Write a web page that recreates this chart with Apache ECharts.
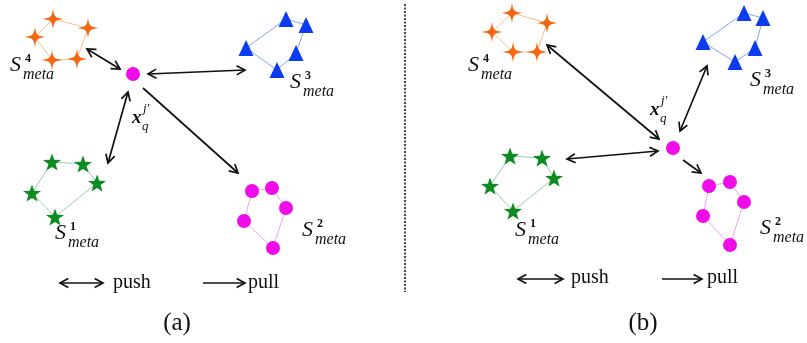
<!DOCTYPE html>
<html>
<head>
<meta charset="utf-8">
<script src="https://cdn.jsdelivr.net/npm/echarts@6/dist/echarts.min.js"></script>
<style>
  html, body { margin: 0; padding: 0; background: #fff; }
  #chart { width: 807px; height: 343px; }
</style>
</head>
<body>
<div id="chart"></div>
<script>
// Support sets (five samples each) for panel (a) and panel (b), in layout units.
const orangeA = [[35, 37], [53, 19], [88, 28], [77, 59], [52, 60]];
const blueA   = [[246, 48], [286, 19], [306, 25], [296, 53], [277, 70]];
const greenA  = [[52, 162], [83, 164], [97, 183], [55, 217], [32, 193]];
const pinkA   = [[252, 191], [272, 188], [286, 208], [273, 248], [244, 221]];
const queryA  = [[133, 74]];

const orangeB = [[492, 32], [512, 13], [547, 23], [537, 52], [513, 52]];
const blueB   = [[703, 42], [744, 13], [763, 18], [755, 48], [735, 62]];
const greenB  = [[510, 156], [542, 158], [554, 178], [513, 211], [490, 186]];
const pinkB   = [[709, 186], [730, 182], [744, 202], [730, 245], [703, 216]];
const queryB  = [[673, 148]];

// Relations: push = double-headed, pull = single-headed [x1, y1, x2, y2]
const pushLinks = [
  [87, 49, 120, 69], [148, 74, 245, 70], [128, 92, 108, 163],
  [547, 45, 659, 139], [707, 66, 680, 131], [567, 159, 658, 151]
];
const pullLinks = [[143, 88, 238, 173], [683, 160, 701, 173]];
const pushKey = [[60, 283, 103, 283], [518, 279, 563, 279]];
const pullKey = [[203, 283, 245, 283], [662, 279, 702, 279]];

// Text
const setSuperscripts = ['4', '3', '1', '2', '4', '3', '1', '2'];
const setAnchors = [[10, 65], [290, 82], [55, 233], [302, 230], [468, 65], [750, 80], [515, 230], [760, 228]];
const queryAnchors = [[132, 118], [650, 110]];
const keyTexts = ['push', 'pull', 'push', 'pull'];
const keyAnchors = [[113, 283], [248, 283], [571, 278], [707, 278]];
const captions = ['(a)', '(b)'];
const captionAnchors = [[177, 323], [643, 323]];
const divider = [[405, 4], [405, 292]];

const INK = '#111';
const SERIF = '"Liberation Serif", "DejaVu Serif", serif';

const sparkle = 'path://M0,-10C0.9,-2.2 2.2,-0.9 10,0C2.2,0.9 0.9,2.2 0,10C-0.9,2.2 -2.2,0.9 -10,0C-2.2,-0.9 -0.9,-2.2 0,-10Z';
const star5 = 'path://M0,-10L2.35,-3.24L9.51,-3.09L3.8,1.24L5.88,8.09L0,4.2L-5.88,8.09L-3.8,1.24L-9.51,-3.09L-2.35,-3.24Z';

function closed(pts) { return pts.concat([pts[0]]); }

function ring(pts, color) {
  return {
    type: 'line', data: closed(pts), showSymbol: false, silent: true, z: 1,
    lineStyle: { color: color, width: 1 }
  };
}
function dots(pts, symbol, size, color) {
  return {
    type: 'scatter', data: pts, symbol: symbol, symbolSize: size, symbolKeepAspect: true, z: 3,
    itemStyle: { color: color, opacity: 1 }
  };
}

function head(tip, from) {
  const ang = Math.atan2(tip[1] - from[1], tip[0] - from[0]);
  const L = 9.5, s = 0.5;
  return {
    type: 'polyline',
    shape: { points: [
      [tip[0] - L * Math.cos(ang - s), tip[1] - L * Math.sin(ang - s)],
      tip,
      [tip[0] - L * Math.cos(ang + s), tip[1] - L * Math.sin(ang + s)]
    ] },
    style: { stroke: INK, lineWidth: 1.7, fill: null }
  };
}
function arrows(data, both) {
  return {
    type: 'custom', data: data, z: 4, silent: true,
    encode: { x: [0, 2], y: [1, 3] },
    renderItem: function (params, api) {
      const a = api.coord([api.value(0), api.value(1)]);
      const b = api.coord([api.value(2), api.value(3)]);
      const children = [
        { type: 'line', shape: { x1: a[0], y1: a[1], x2: b[0], y2: b[1] }, style: { stroke: INK, lineWidth: 1.7 } },
        head(b, a)
      ];
      if (both) children.push(head(a, b));
      return { type: 'group', children: children };
    }
  };
}

function txt(x, y, text, font, align) {
  return { type: 'text', x: x, y: y, style: { text: text, font: font, fill: INK, align: align || 'left', verticalAlign: 'middle' } };
}

const setLabels = {
  type: 'custom', data: setAnchors, z: 5, silent: true,
  renderItem: function (params, api) {
    const p = api.coord([api.value(0), api.value(1)]);
    return { type: 'group', children: [
      txt(p[0], p[1], 'S', 'italic 22px ' + SERIF),
      txt(p[0] + 15, p[1] - 6, setSuperscripts[params.dataIndex], 'bold 12px ' + SERIF),
      txt(p[0] + 13, p[1] + 10, 'meta', 'italic 16px ' + SERIF)
    ] };
  }
};
const queryLabels = {
  type: 'custom', data: queryAnchors, z: 5, silent: true,
  renderItem: function (params, api) {
    const p = api.coord([api.value(0), api.value(1)]);
    return { type: 'group', children: [
      txt(p[0], p[1], 'x', 'italic bold 19px ' + SERIF),
      txt(p[0] + 10, p[1] + 9, 'q', 'italic 13px ' + SERIF),
      txt(p[0] + 11, p[1] - 9, 'j\u2032', 'italic 13px ' + SERIF)
    ] };
  }
};
const keyLabels = {
  type: 'custom', data: keyAnchors, z: 5, silent: true,
  renderItem: function (params, api) {
    const p = api.coord([api.value(0), api.value(1)]);
    return txt(p[0], p[1], keyTexts[params.dataIndex], '20px ' + SERIF);
  }
};
const captionLabels = {
  type: 'custom', data: captionAnchors, z: 5, silent: true,
  renderItem: function (params, api) {
    const p = api.coord([api.value(0), api.value(1)]);
    return txt(p[0], p[1], captions[params.dataIndex], '25px ' + SERIF, 'center');
  }
};

const chart = echarts.init(document.getElementById('chart'), null, { renderer: 'canvas' });
chart.setOption({
  animation: false,
  backgroundColor: '#fff',
  grid: { left: 0, right: 0, top: 0, bottom: 0 },
  xAxis: { type: 'value', min: 0, max: 807, show: false },
  yAxis: { type: 'value', min: 0, max: 343, inverse: true, show: false },
  series: [
    { type: 'line', data: divider, showSymbol: false, silent: true,
      lineStyle: { color: '#444', width: 2, type: [2, 1.5] } },
    ring(orangeA, '#F4C08F'), ring(blueA, '#82A8E8'), ring(greenA, '#9CCDB1'), ring(pinkA, '#EEA2EC'),
    ring(orangeB, '#F4C08F'), ring(blueB, '#82A8E8'), ring(greenB, '#9CCDB1'), ring(pinkB, '#EEA2EC'),
    dots(orangeA, sparkle, 21, '#F2670F'), dots(blueA, 'triangle', [15, 16], '#0B3CF2'),
    dots(greenA, star5, 18, '#0C8C20'), dots(pinkA, 'circle', 14, '#F00CE8'),
    dots(orangeB, sparkle, 21, '#F2670F'), dots(blueB, 'triangle', [15, 16], '#0B3CF2'),
    dots(greenB, star5, 18, '#0C8C20'), dots(pinkB, 'circle', 14, '#F00CE8'),
    dots(queryA, 'circle', 14, '#F00CE8'), dots(queryB, 'circle', 14, '#F00CE8'),
    arrows(pushLinks, true), arrows(pullLinks, false),
    arrows(pushKey, true), arrows(pullKey, false),
    setLabels, queryLabels, keyLabels, captionLabels
  ]
});
</script>
</body>
</html>
